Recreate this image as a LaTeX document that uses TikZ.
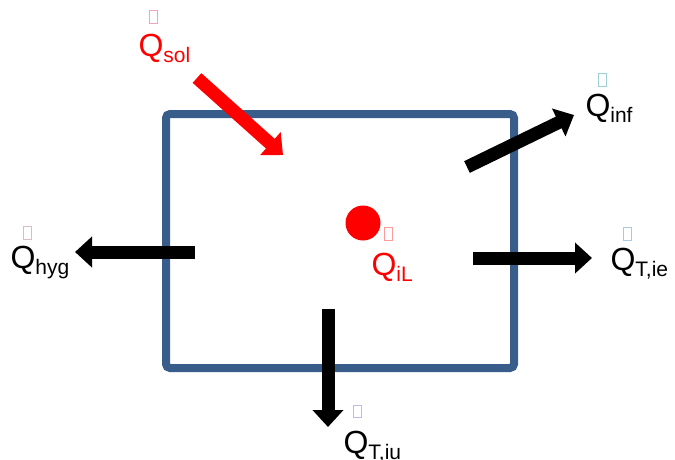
\documentclass[tikz,border=0pt]{standalone}
\usepackage{fontspec}
\setmainfont{Liberation Sans}
\usetikzlibrary{arrows.meta}
\definecolor{boxblue}{HTML}{385D8A}
\definecolor{tofusol}{HTML}{F2A2BC}
\definecolor{tofuinf}{HTML}{9CCFD2}
\definecolor{tofuhyg}{HTML}{D9BCCB}
\definecolor{tofuil}{HTML}{FF9A9A}
\definecolor{tofuie}{HTML}{A9C9E6}
\definecolor{tofuiu}{HTML}{BBBDE3}
\tikzset{
  qlabel/.style={anchor=base west, inner sep=0pt, outer sep=0pt},
  bigarrow/.style={line width=13pt, line cap=butt, -{Triangle[length=17pt,width=30pt]}},
  tofu/.style={line width=0.9pt},
}
\newcommand{\qsym}[1]{{\fontsize{32}{32}\selectfont Q}{\fontsize{21}{21}\selectfont\raisebox{-6pt}{#1}}}
\begin{document}
\begin{tikzpicture}[x=1pt,y=-1pt]
\useasboundingbox (0,0) rectangle (675,459);
% room
\draw[boxblue, line width=8pt, rounded corners=4pt] (166,114) rectangle (514,368);
% heat source
\fill[red] (363,223) circle (17.5);
% coordinates for arrows
\coordinate (solA) at (197,78);  \coordinate (solB) at (283,155);
\coordinate (infA) at (467,167); \coordinate (infB) at (574,115);
\coordinate (hygA) at (195,252); \coordinate (hygB) at (75,252);
\coordinate (ieA) at (473,258);  \coordinate (ieB) at (592,258);
\coordinate (iuA) at (328,309);  \coordinate (iuB) at (328,427);
\draw[bigarrow, red] (solA) -- (solB);
\draw[bigarrow, black] (infA) -- (infB);
\draw[bigarrow, black] (hygA) -- (hygB);
\draw[bigarrow, black] (ieA) -- (ieB);
\draw[bigarrow, black] (iuA) -- (iuB);
% labels
\node[qlabel, text=red] (lsol) at (138.5,56) {\qsym{sol}};
\node[qlabel] (linf) at (585.5,116) {\qsym{inf}};
\node[qlabel] (lhyg) at (10.5,268) {\qsym{hyg}};
\node[qlabel, text=red] (lil) at (371.5,275) {\qsym{iL}};
\node[qlabel] (lie) at (610.5,270) {\qsym{T,ie}};
\node[qlabel] (liu) at (343.5,453) {\qsym{T,iu}};
% missing-glyph boxes above the Q's
\draw[tofu, tofusol] (149.5,10.5) rectangle (157.5,23.5);
\draw[tofu, tofuinf] (598.5,73.5) rectangle (606.5,86.5);
\draw[tofu, tofuhyg] (23.5,226) rectangle (31.5,239);
\draw[tofu, tofuil] (384.5,227.5) rectangle (392.5,240.5);
\draw[tofu, tofuie] (623.5,227) rectangle (631.5,240);
\draw[tofu, tofuiu] (353.5,405) rectangle (361.5,417);
\end{tikzpicture}
\end{document}
